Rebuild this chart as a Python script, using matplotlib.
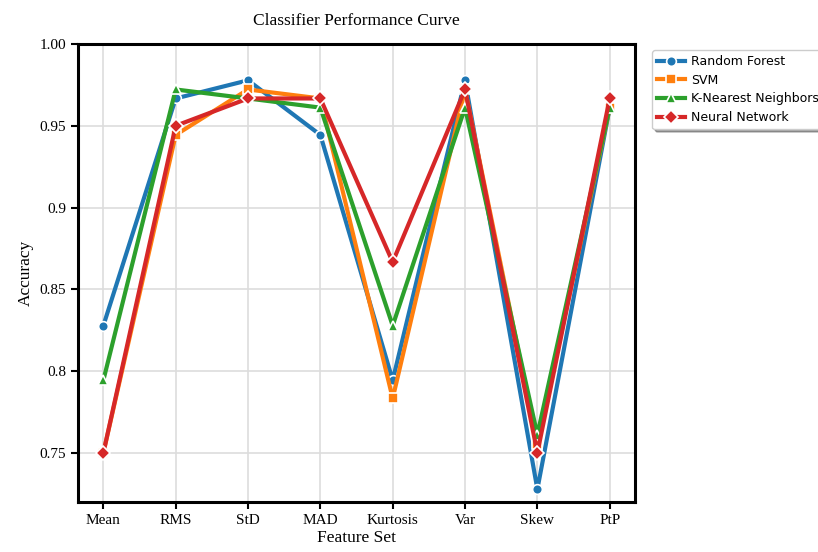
import matplotlib
matplotlib.use("Agg")
import matplotlib.pyplot as plt

features = ["Mean", "RMS", "StD", "MAD", "Kurtosis", "Var", "Skew", "PtP"]

rf_acc = [0.8278, 0.9667, 0.9778, 0.9444, 0.7944, 0.9778, 0.7278, 0.9611]
svm_acc = [0.7500, 0.9444, 0.9722, 0.9667, 0.7833, 0.9722, 0.7556, 0.9611]
knn_acc = [0.7944, 0.9722, 0.9667, 0.9611, 0.8278, 0.9611, 0.7611, 0.9611]
nn_acc = [0.7500, 0.9500, 0.9667, 0.9667, 0.8667, 0.9722, 0.7500, 0.9667]

series = [
    ("Random Forest", rf_acc, "#1f77b4", "o"),
    ("SVM", svm_acc, "#ff7f0e", "s"),
    ("K-Nearest Neighbors", knn_acc, "#2ca02c", "^"),
    ("Neural Network", nn_acc, "#d62728", "D"),
]

fig = plt.figure(figsize=(8.18, 5.52), dpi=100)
ax = fig.add_axes([0.0954, 0.0906, 0.6809, 0.8297])

x = list(range(len(features)))
for name, vals, color, marker in series:
    ax.plot(x, vals, color=color, marker=marker, linewidth=3, markersize=7,
            markeredgecolor="white", markeredgewidth=1.2, label=name)

ax.set_xticks(x)
ax.set_xticklabels(features, family="Liberation Serif", fontsize=11)
ax.set_yticks([0.75, 0.8, 0.85, 0.9, 0.95, 1.0])
ax.set_yticklabels(["0.75", "0.8", "0.85", "0.9", "0.95", "1.00"],
                   family="Liberation Serif", fontsize=11)
ax.set_xlim(-0.35, 7.35)
ax.set_ylim(0.72, 1.0)

ax.grid(True, color="#dddddd", linewidth=1.2)
ax.set_axisbelow(True)
for sp in ax.spines.values():
    sp.set_linewidth(2.2)
    sp.set_color("black")
ax.tick_params(width=1.5, length=5)

ax.set_xlabel("Feature Set", family="Liberation Serif", fontsize=12.5, labelpad=2)
ax.set_ylabel("Accuracy", family="Liberation Serif", fontsize=12.5)
ax.set_title("Classifier Performance Curve", family="Liberation Serif",
             fontsize=12.5, pad=14)

# legend sits outside the axes on the right
ax.legend(loc="upper left", bbox_to_anchor=(1.02, 1.0),
          prop={"family": "DejaVu Sans", "size": 9},
          labelspacing=0.45, handlelength=2.2, handletextpad=0.5,
          shadow=True, fancybox=True)

fig.savefig("out.png", dpi=100)
